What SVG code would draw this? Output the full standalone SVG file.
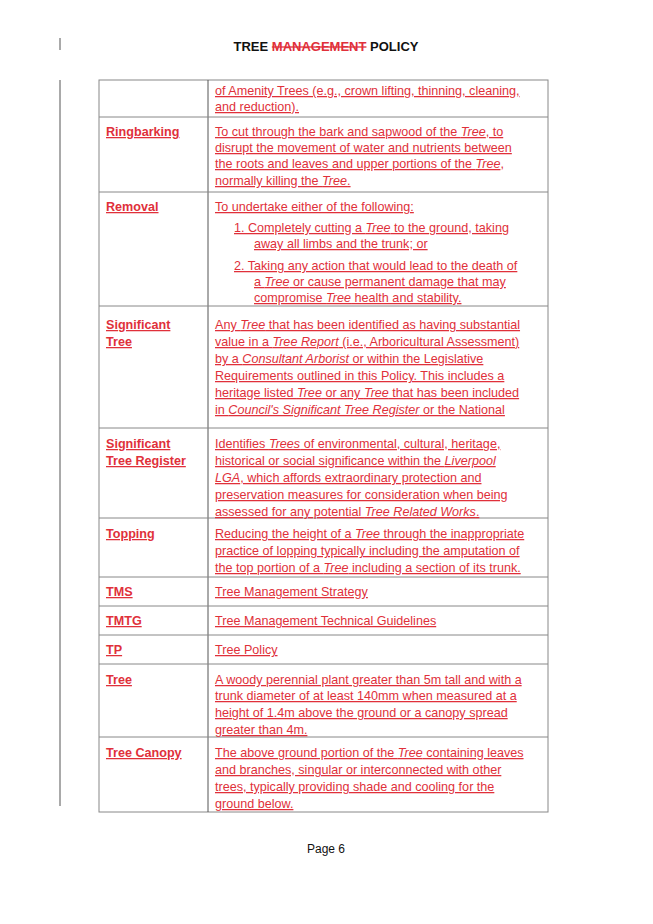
<svg xmlns="http://www.w3.org/2000/svg" width="653" height="924" viewBox="0 0 653 924">
<style>
text{font-family:"Liberation Sans",Arial,sans-serif;font-size:12.6px;fill:#e0303a;text-decoration:underline}
.h{font-size:13px;font-weight:bold;fill:#111;text-decoration:none}
.k{font-weight:bold}
.i{font-style:italic}
.g{stroke:#888;stroke-width:1;fill:none}
.d{stroke:#555;stroke-width:1}
</style>
<rect width="653" height="924" fill="#fff"/>
<g id="margin">
<line x1="60" y1="38" x2="60" y2="50" class="d" stroke-width="1.5"/>
<line x1="60" y1="80" x2="60" y2="806" class="d" stroke-width="1.5"/>
</g>
<g id="header">
<text x="326" y="51" text-anchor="middle" class="h">TREE <tspan fill="#e0303a" text-decoration="line-through">MANAGEMENT</tspan> POLICY</text>
</g>
<g id="table">
<rect x="99" y="80" width="449" height="732" class="g"/>
<line x1="208" y1="80" x2="208" y2="812" class="d"/>
<g class="g">
<line x1="99" y1="117" x2="548" y2="117"/><line x1="99" y1="192" x2="548" y2="192"/>
<line x1="99" y1="306" x2="548" y2="306"/><line x1="99" y1="428" x2="548" y2="428"/>
<line x1="99" y1="518" x2="548" y2="518"/><line x1="99" y1="577" x2="548" y2="577"/>
<line x1="99" y1="606" x2="548" y2="606"/><line x1="99" y1="635" x2="548" y2="635"/>
<line x1="99" y1="664" x2="548" y2="664"/><line x1="99" y1="737" x2="548" y2="737"/>
</g>
</g>
<g id="row-amenity">
<text x="215" y="95">of Amenity Trees (e.g., crown lifting, thinning, cleaning,</text>
<text x="215" y="111">and reduction).</text>
</g>
<g id="row-ringbarking">
<text x="106" y="136" class="k">Ringbarking</text>
<text x="215" y="136">To cut through the bark and sapwood of the <tspan class="i">Tree</tspan>, to</text>
<text x="215" y="152">disrupt the movement of water and nutrients between</text>
<text x="215" y="168">the roots and leaves and upper portions of the <tspan class="i">Tree</tspan>,</text>
<text x="215" y="185">normally killing the <tspan class="i">Tree</tspan>.</text>
</g>
<g id="row-removal">
<text x="106" y="211" class="k">Removal</text>
<text x="215" y="211">To undertake either of the following:</text>
<text x="234" y="232">1.  Completely cutting a <tspan class="i">Tree</tspan> to the ground, taking</text>
<text x="254" y="248">away all limbs and the trunk; or</text>
<text x="234" y="270">2.  Taking any action that would lead to the death of</text>
<text x="254" y="286">a <tspan class="i">Tree</tspan> or cause permanent damage that may</text>
<text x="254" y="302">compromise <tspan class="i">Tree</tspan> health and stability.</text>
</g>
<g id="row-significant-tree">
<text x="106" y="329" class="k">Significant</text>
<text x="106" y="346" class="k">Tree</text>
<text x="215" y="329">Any <tspan class="i">Tree</tspan> that has been identified as having substantial</text>
<text x="215" y="346">value in a <tspan class="i">Tree Report</tspan> (i.e., Arboricultural Assessment)</text>
<text x="215" y="363">by a <tspan class="i">Consultant Arborist</tspan> or within the Legislative</text>
<text x="215" y="380">Requirements outlined in this Policy. This includes a</text>
<text x="215" y="397">heritage listed <tspan class="i">Tree</tspan> or any <tspan class="i">Tree</tspan> that has been included</text>
<text x="215" y="414">in <tspan class="i">Council's Significant Tree Register</tspan> or the National</text>
<text x="215" y="420" dy="0" visibility="hidden"> </text>
<text x="215" y="421" style="display:none"> </text>
<text x="215" y="414" dy="0" style="display:none"> </text>
<text x="215" y="431" style="display:none"> </text>
</g>
<g id="row-significant-tree-2">
<text x="215" y="423" style="display:none"> </text>
</g>
<g id="row-register">
<text x="106" y="448" class="k">Significant</text>
<text x="106" y="465" class="k">Tree Register</text>
<text x="215" y="448">Identifies <tspan class="i">Trees</tspan> of environmental, cultural, heritage,</text>
<text x="215" y="465">historical or social significance within the <tspan class="i">Liverpool</tspan></text>
<text x="215" y="482"><tspan class="i">LGA</tspan>, which affords extraordinary protection and</text>
<text x="215" y="499">preservation measures for consideration when being</text>
<text x="215" y="516">assessed for any potential <tspan class="i">Tree Related Works</tspan>.</text>
</g>
<g id="row-topping">
<text x="106" y="538" class="k">Topping</text>
<text x="215" y="538">Reducing the height of a <tspan class="i">Tree</tspan> through the inappropriate</text>
<text x="215" y="555">practice of lopping typically including the amputation of</text>
<text x="215" y="572">the top portion of a <tspan class="i">Tree</tspan> including a section of its trunk.</text>
</g>
<g id="row-tms"><text x="106" y="596" class="k">TMS</text><text x="215" y="596">Tree Management Strategy</text></g>
<g id="row-tmtg"><text x="106" y="625" class="k">TMTG</text><text x="215" y="625">Tree Management Technical Guidelines</text></g>
<g id="row-tp"><text x="106" y="654" class="k">TP</text><text x="215" y="654">Tree Policy</text></g>
<g id="row-tree">
<text x="106" y="684" class="k">Tree</text>
<text x="215" y="684">A woody perennial plant greater than 5m tall and with a</text>
<text x="215" y="700">trunk diameter of at least 140mm when measured at a</text>
<text x="215" y="717">height of 1.4m above the ground or a canopy spread</text>
<text x="215" y="734">greater than 4m.</text>
</g>
<g id="row-canopy">
<text x="106" y="757" class="k">Tree Canopy</text>
<text x="215" y="757">The above ground portion of the <tspan class="i">Tree</tspan> containing leaves</text>
<text x="215" y="774">and branches, singular or interconnected with other</text>
<text x="215" y="791">trees, typically providing shade and cooling for the</text>
<text x="215" y="808">ground below.</text>
</g>
<g id="footer"><text x="326" y="853" text-anchor="middle" class="h" style="font-weight:normal;font-size:12px">Page 6</text></g>
</svg>
